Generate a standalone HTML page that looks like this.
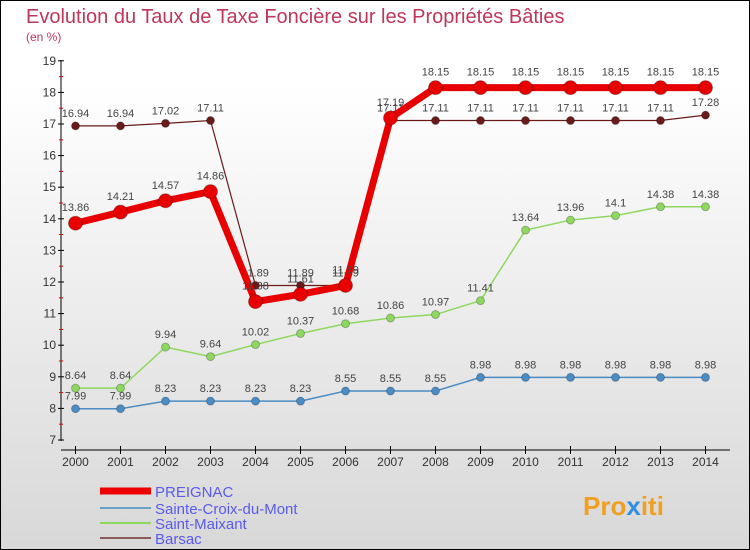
<!DOCTYPE html>
<html><head><meta charset="utf-8"><style>
body{margin:0}
#c{width:750px;height:550px;position:relative;box-sizing:border-box;border:1px solid #000;background:linear-gradient(#fff,#fff 15%,#d8d8d8);font-family:"Liberation Sans",sans-serif;overflow:hidden}
</style></head><body>
<div id="c">
<svg id="s" width="750" height="550" style="position:absolute;left:-1px;top:-1px">
<text x="26" y="23" font-size="20" fill="#c0365a">Evolution du Taux de Taxe Foncière sur les Propriétés Bâties</text>
<text x="26" y="41" font-size="12" fill="#c0365a">(en %)</text>
<g id="g"></g>
<g font-size="15" fill="#5a5aee">
<line x1="100" y1="491" x2="151" y2="491" stroke="#e00" stroke-width="7"/><text x="155" y="497">PREIGNAC</text>
<line x1="100" y1="508" x2="151" y2="508" stroke="#6aa0c8" stroke-width="2"/><text x="155" y="514">Sainte-Croix-du-Mont</text>
<line x1="100" y1="523" x2="151" y2="523" stroke="#8ed860" stroke-width="2"/><text x="155" y="529">Saint-Maixant</text>
<line x1="100" y1="538" x2="151" y2="538" stroke="#8a5a5a" stroke-width="2"/><text x="155" y="544">Barsac</text>
</g>
<text x="583" y="515" font-size="26" font-weight="bold" fill="#f0a020">Pro<tspan fill="#3090e0">x</tspan>iti</text>
</svg>
</div>
<script>
const years=[2000,2001,2002,2003,2004,2005,2006,2007,2008,2009,2010,2011,2012,2013,2014];
const yTicks=[7,8,9,10,11,12,13,14,15,16,17,18,19];
const preignac=[13.86,14.21,14.57,14.86,11.38,11.61,11.89,17.19,18.15,18.15,18.15,18.15,18.15,18.15,18.15];
const sainteCroix=[7.99,7.99,8.23,8.23,8.23,8.23,8.55,8.55,8.55,8.98,8.98,8.98,8.98,8.98,8.98];
const saintMaixant=[8.64,8.64,9.94,9.64,10.02,10.37,10.68,10.86,10.97,11.41,13.64,13.96,14.1,14.38,14.38];
const barsac=[16.94,16.94,17.02,17.11,11.89,11.89,11.89,17.11,17.11,17.11,17.11,17.11,17.11,17.11,17.28];
const NS="http://www.w3.org/2000/svg",g=document.getElementById('g');
const X=i=>75.5+i*45, Y=v=>440-(v-7)*31.6;
function el(t,a,p){const e=document.createElementNS(NS,t);for(const k in a)e.setAttribute(k,a[k]);(p||g).appendChild(e);return e;}
let e=el('line',{x1:61,y1:60,x2:61,y2:441,stroke:'#000'});


e=el('line',{x1:61,y1:450,x2:730,y2:450,stroke:'#000'});


yTicks.forEach(v=>{el('line',{x1:58,y1:Y(v),x2:64,y2:Y(v),stroke:'#000'});
if(v<19)el('line',{x1:59,y1:Y(v+0.5),x2:63,y2:Y(v+0.5),stroke:'#e00'});
const t=el('text',{x:56,y:Y(v)+4,'text-anchor':'end','font-size':12,fill:'#333'});t.textContent=v;

});
years.forEach((y,i)=>{el('line',{x1:X(i),y1:446,x2:X(i),y2:454,stroke:'#000'});
const t=el('text',{x:X(i),y:466,'text-anchor':'middle','font-size':12,fill:'#333'});t.textContent=y;

});
function series(d,col,w,r,name,dy){
const sg=el('g',{});


el('polyline',{points:d.map((v,i)=>X(i)+','+Y(v)).join(' '),fill:'none',stroke:col,'stroke-width':w},sg);
d.forEach((v,i)=>{const c=el('circle',{cx:X(i),cy:Y(v),r:r,fill:col,stroke:'rgba(0,0,0,0.25)'},sg);


const t=el('text',{x:X(i),y:Y(v)+dy,'text-anchor':'middle','font-size':11,fill:'#444'},sg);t.textContent=v;

});}
series(sainteCroix,'#4a8cc4',1.5,4,'sainte-croix',-9);
series(saintMaixant,'#8ed860',1.5,4,'saint-maixant',-9);
series(barsac,'#6a1a1a',1.2,4,'barsac',-9);
series(preignac,'#e80000',7,7,'preignac',-12);
</script>
</body></html>
